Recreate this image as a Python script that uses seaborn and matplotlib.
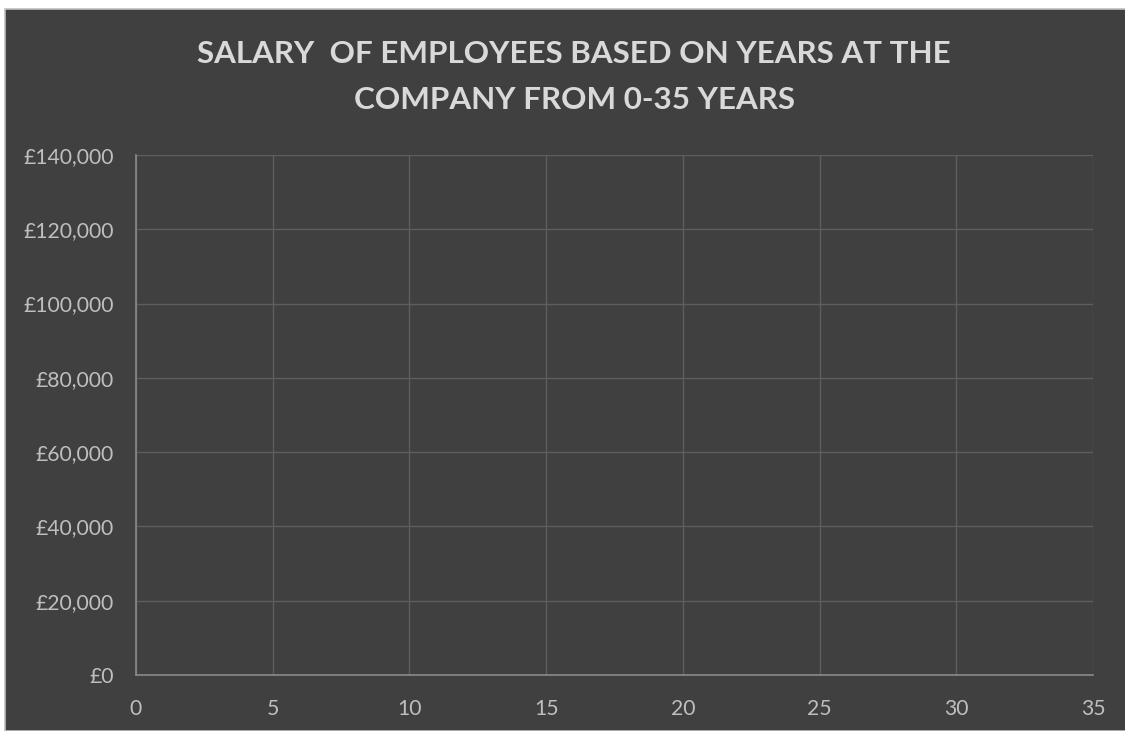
import matplotlib
matplotlib.use("Agg")
import matplotlib.pyplot as plt
from matplotlib.patches import Rectangle
from matplotlib.ticker import FuncFormatter
import seaborn as sns
import pandas as pd

# Data (the reference chart has no plotted points)
years = []
salaries = []
x_ticks = [0, 5, 10, 15, 20, 25, 30, 35]
y_ticks = [0, 20000, 40000, 60000, 80000, 100000, 120000, 140000]
title = "SALARY  OF EMPLOYEES BASED ON YEARS AT THE\nCOMPANY FROM 0-35 YEARS"

sns.set_theme(style="dark")
plt.rcParams['font.family'] = ['Lato', 'DejaVu Sans']

BG = "#404040"
fig = plt.figure(figsize=(11.25, 7.31), dpi=100, facecolor="white")
fig.patches.append(Rectangle((5/1125, 0), 1.2, (731-9)/731, transform=fig.transFigure,
                             facecolor=BG, edgecolor="#bfbfbf", linewidth=1.2, zorder=-10))

ax = fig.add_axes([136/1125, 56/731, (1093-136)/1125, (675-155)/731])
ax.set_facecolor(BG)
ax.set_zorder(1)

df = pd.DataFrame({"Years": pd.Series(years, dtype=float), "Salary": pd.Series(salaries, dtype=float)})
sns.scatterplot(data=df, x="Years", y="Salary", ax=ax, color="#5b9bd5")

ax.set_xlim(x_ticks[0], x_ticks[-1])
ax.set_ylim(y_ticks[0], y_ticks[-1])
ax.set_xticks(x_ticks)
ax.set_yticks(y_ticks)
ax.yaxis.set_major_formatter(FuncFormatter(lambda v, p: f"£{int(v):,}"))
ax.set_xlabel("")
ax.set_ylabel("")

ax.grid(True, color="#5e5e5e", linewidth=1.0)
ax.set_axisbelow(True)
for side in ["top", "right"]:
    ax.spines[side].set_visible(False)
for side in ["left", "bottom"]:
    ax.spines[side].set_visible(True)
    ax.spines[side].set_color("#8a8a8a")
    ax.spines[side].set_linewidth(1.2)

ax.tick_params(axis="both", length=0, colors="#bfbfbf", labelsize=15.2)
ax.tick_params(axis="y", pad=16)
ax.tick_params(axis="x", pad=17.5)

fig.text(574/1125, 1 - 77/731, title, ha="center", va="center", fontsize=22.6,
         fontweight="bold", color="#d9d9d9", linespacing=1.75)

fig.savefig("out.png", dpi=100, facecolor=fig.get_facecolor())
